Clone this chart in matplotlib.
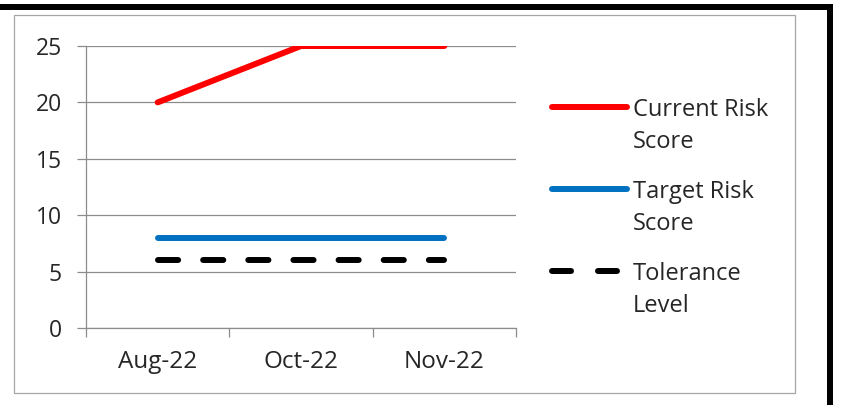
import matplotlib.pyplot as plt
from matplotlib.patches import Rectangle
from matplotlib.lines import Line2D

months = ['Aug-22', 'Oct-22', 'Nov-22']
current_risk = [20, 25, 25]
target_risk = [8, 8, 8]
tolerance = [6, 6, 6]
y_ticks = [0, 5, 10, 15, 20, 25]
legend_labels = [['Current Risk', 'Score'], ['Target Risk', 'Score'], ['Tolerance', 'Level']]

plt.rcParams['font.family'] = ['Open Sans', 'DejaVu Sans']
plt.rcParams['lines.scale_dashes'] = False

W, H = 842, 405
fig = plt.figure(figsize=(W / 100, H / 100), dpi=100)
fig.patch.set_facecolor('white')

# outer chart frame (grey) and thick black edges
fig.add_artist(Rectangle((14 / W, 1 - 393 / H), 781 / W, 378 / H, transform=fig.transFigure,
                         fill=False, edgecolor='#a6a6a6', linewidth=0.9))
fig.add_artist(Rectangle((0, 1 - 10 / H), 833 / W, 6 / H, transform=fig.transFigure,
                         facecolor='black', edgecolor='none'))
fig.add_artist(Rectangle((827 / W, 0), 6 / W, 1 - 4 / H, transform=fig.transFigure,
                         facecolor='black', edgecolor='none'))

ax = fig.add_axes([86 / W, 1 - 328 / H, 430 / W, 282 / H])
x = range(len(months))

styles = [
    dict(color='#ff0000', lw=4.3, solid_capstyle='round', solid_joinstyle='round'),
    dict(color='#0070c0', lw=4.3, solid_capstyle='round'),
    dict(color='black', lw=4.3, dashes=(14.5, 18), dash_capstyle='round'),
]
for vals, st in zip([current_risk, target_risk, tolerance], styles):
    ax.plot(x, vals, zorder=3, **st)

ax.set_xlim(-0.5, len(months) - 0.5)
ax.set_ylim(0, 25)
ax.set_yticks(y_ticks)
ax.set_xticks(list(x))
ax.set_xticklabels(months)
ax.set_xticks([-0.5, 0.5, 1.5, 2.5], minor=True)

ax.grid(axis='y', color='#8c8c8c', linewidth=0.9)
ax.set_axisbelow(True)
for s in ['top', 'right']:
    ax.spines[s].set_visible(False)
for s in ['left', 'bottom']:
    ax.spines[s].set_color('#8c8c8c')
    ax.spines[s].set_linewidth(0.9)

ax.tick_params(axis='y', direction='out', length=6.5, width=0.9, color='#8c8c8c',
               labelsize=16.5, pad=11, labelcolor='#262626')
ax.tick_params(axis='x', which='major', length=0, labelsize=17.5, pad=16, labelcolor='#262626')
ax.tick_params(axis='x', which='minor', direction='out', length=6.5, width=0.9, color='#8c8c8c')

# legend on the right, handle level with the first text line
leg_y = [107, 189, 271]
for yy, st, lines in zip(leg_y, styles, legend_labels):
    ln = Line2D([552 / W, 627 / W], [1 - yy / H, 1 - yy / H], transform=fig.transFigure, **st)
    if 'dashes' in st:
        ln.set_dashes((13.7, 19.4))
    fig.add_artist(ln)
    for k, txt in enumerate(lines):
        fig.text(633 / W, 1 - (yy + 9 + 32 * k) / H, txt, fontsize=17, color='#262626',
                 va='baseline', ha='left')

fig.savefig('out.png', dpi=100)
